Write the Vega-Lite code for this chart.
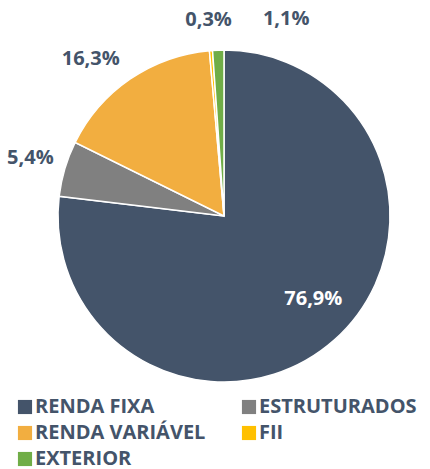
{
  "$schema": "https://vega.github.io/schema/vega-lite/v6.json",
  "autosize": {"type": "none"},
  "width": 448,
  "height": 432,
  "padding": {"left": 0, "top": 0, "right": 0, "bottom": 37},
  "background": "white",
  "data": {"values": [
    {"cat": "RENDA FIXA", "value": 76.9, "label": "76,9%", "idx": 1},
    {"cat": "ESTRUTURADOS", "value": 5.4, "label": "5,4%", "idx": 2},
    {"cat": "RENDA VARIÁVEL", "value": 16.3, "label": "16,3%", "idx": 3},
    {"cat": "FII", "value": 0.3, "label": "0,3%", "idx": 4},
    {"cat": "EXTERIOR", "value": 1.1, "label": "1,1%", "idx": 5}
  ]},
  "encoding": {
    "theta": {"field": "value", "type": "quantitative", "stack": true},
    "order": {"field": "idx", "type": "quantitative"}
  },
  "layer": [
    {
      "mark": {"type": "arc", "outerRadius": 166, "stroke": "white", "strokeWidth": 1.5},
      "encoding": {
        "color": {
          "field": "cat", "type": "nominal",
          "scale": {
            "domain": ["RENDA FIXA", "RENDA VARIÁVEL", "EXTERIOR", "ESTRUTURADOS", "FII"],
            "range": ["#44546A", "#F2AE40", "#70AD47", "#808080", "#FFC000"]
          },
          "legend": {
            "title": null, "orient": "none", "legendX": 15, "legendY": 397,
            "columns": 2, "columnPadding": 33, "rowPadding": 6, "padding": 0,
            "symbolType": "square", "symbolSize": 200, "symbolStrokeWidth": 0,
            "labelFont": "Open Sans", "labelFontWeight": "bold", "labelFontSize": 20,
            "labelColor": "#44546A", "labelOffset": 0, "labelLimit": 300
          }
        }
      }
    },
    {
      "mark": {"type": "text", "radius": 121, "dx": 9, "dy": -8, "font": "Open Sans", "fontWeight": "bold", "fontSize": 20, "fill": "white"},
      "encoding": {
        "text": {"field": "label"},
        "opacity": {"condition": {"test": "datum.cat === 'RENDA FIXA'", "value": 1}, "value": 0}
      }
    },
    {
      "mark": {"type": "text", "radius": 202, "font": "Open Sans", "fontWeight": "bold", "fontSize": 20, "fill": "#44546A"},
      "encoding": {
        "text": {"field": "label"},
        "opacity": {"condition": {"test": "datum.cat === 'ESTRUTURADOS'", "value": 1}, "value": 0}
      }
    },
    {
      "mark": {"type": "text", "radius": 190, "dx": -26, "font": "Open Sans", "fontWeight": "bold", "fontSize": 20, "fill": "#44546A"},
      "encoding": {
        "text": {"field": "label"},
        "opacity": {"condition": {"test": "datum.cat === 'RENDA VARIÁVEL'", "value": 1}, "value": 0}
      }
    },
    {
      "mark": {"type": "text", "radius": 197, "font": "Open Sans", "fontWeight": "bold", "fontSize": 20, "fill": "#44546A"},
      "encoding": {
        "text": {"field": "label"},
        "opacity": {"condition": {"test": "datum.cat === 'FII'", "value": 1}, "value": 0}
      }
    },
    {
      "mark": {"type": "text", "radius": 197, "dx": 69, "font": "Open Sans", "fontWeight": "bold", "fontSize": 20, "fill": "#44546A"},
      "encoding": {
        "text": {"field": "label"},
        "opacity": {"condition": {"test": "datum.cat === 'EXTERIOR'", "value": 1}, "value": 0}
      }
    }
  ]
}
